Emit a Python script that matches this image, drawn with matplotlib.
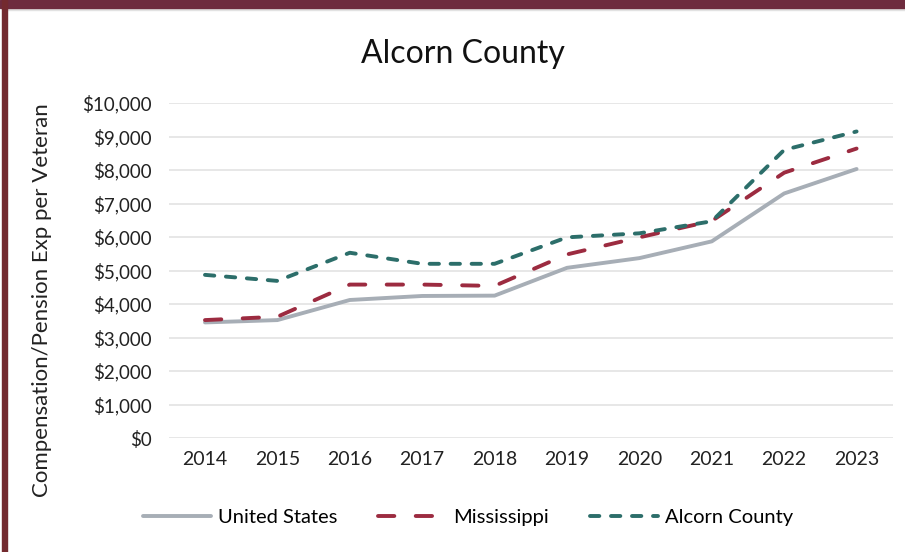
import matplotlib
matplotlib.use('Agg')
import matplotlib.pyplot as plt
from matplotlib.patches import Rectangle
from matplotlib.ticker import FuncFormatter

years = ['2014', '2015', '2016', '2017', '2018', '2019', '2020', '2021', '2022', '2023']
united_states = [3450, 3520, 4120, 4240, 4250, 5080, 5370, 5870, 7300, 8030]
mississippi = [3520, 3620, 4580, 4580, 4540, 5480, 5990, 6480, 7920, 8640]
alcorn_county = [4870, 4690, 5530, 5200, 5200, 5990, 6110, 6470, 8600, 9150]

plt.rcParams['font.family'] = ['Lato', 'DejaVu Sans']

fig = plt.figure(figsize=(9.05, 5.52), dpi=100)
ax = fig.add_axes([0.1865, 0.2065, 0.80, 0.6069])

x = range(len(years))
ax.plot(x, united_states, color='#a7aeb6', lw=2.8, label='United States',
        solid_capstyle='round')
ax.plot(x, mississippi, color='#9c2b40', lw=2.8, label='Mississippi',
        dashes=(4.2, 5.5), dash_capstyle='round')
ax.plot(x, alcorn_county, color='#2c6e6a', lw=2.8, label='Alcorn County',
        dashes=(2.4, 3.0), dash_capstyle='round')

ax.set_xlim(-0.5, len(years) - 0.5)
ax.set_ylim(0, 10000)
ax.set_yticks(range(0, 10001, 1000))
ax.yaxis.set_major_formatter(FuncFormatter(lambda v, p: '${:,.0f}'.format(v)))
ax.set_xticks(list(x))
ax.set_xticklabels(years)
ax.grid(axis='y', color='#e3e3e3', lw=1.2)
ax.set_axisbelow(True)
for s in ax.spines.values():
    s.set_visible(False)
ax.tick_params(length=0, colors='#222222')
ax.tick_params(axis='y', pad=12, labelsize=13.5)
ax.tick_params(axis='x', pad=9, labelsize=14)

fig.text(42 / 905, 1 - 300 / 552, 'Compensation/Pension Exp per Veteran', rotation=90,
         ha='center', va='center', fontsize=16, color='#222222')
fig.text(463 / 905, 1 - 63 / 552, 'Alcorn County', ha='center', va='baseline',
         fontsize=23, color='#111111')

leg = fig.legend(loc='center', bbox_to_anchor=(468 / 905, 1 - 517 / 552), ncol=3,
                 frameon=False, fontsize=14.5, handlelength=3.4, columnspacing=2.0,
                 handletextpad=0.35)

# frame borders
fig.patches.append(Rectangle((0, 1 - 8 / 552), 1, 8 / 552, transform=fig.transFigure,
                             color='#6e2b3e', zorder=5))
fig.patches.append(Rectangle((2 / 905, 0), 5 / 905, 1, transform=fig.transFigure,
                             color='#732a2f', zorder=5))
fig.patches.append(Rectangle((7 / 905, 1 - 10 / 552), 1, 2 / 552, transform=fig.transFigure,
                             color='#e2e2e2', zorder=4))

fig.savefig('out.png', dpi=100)
